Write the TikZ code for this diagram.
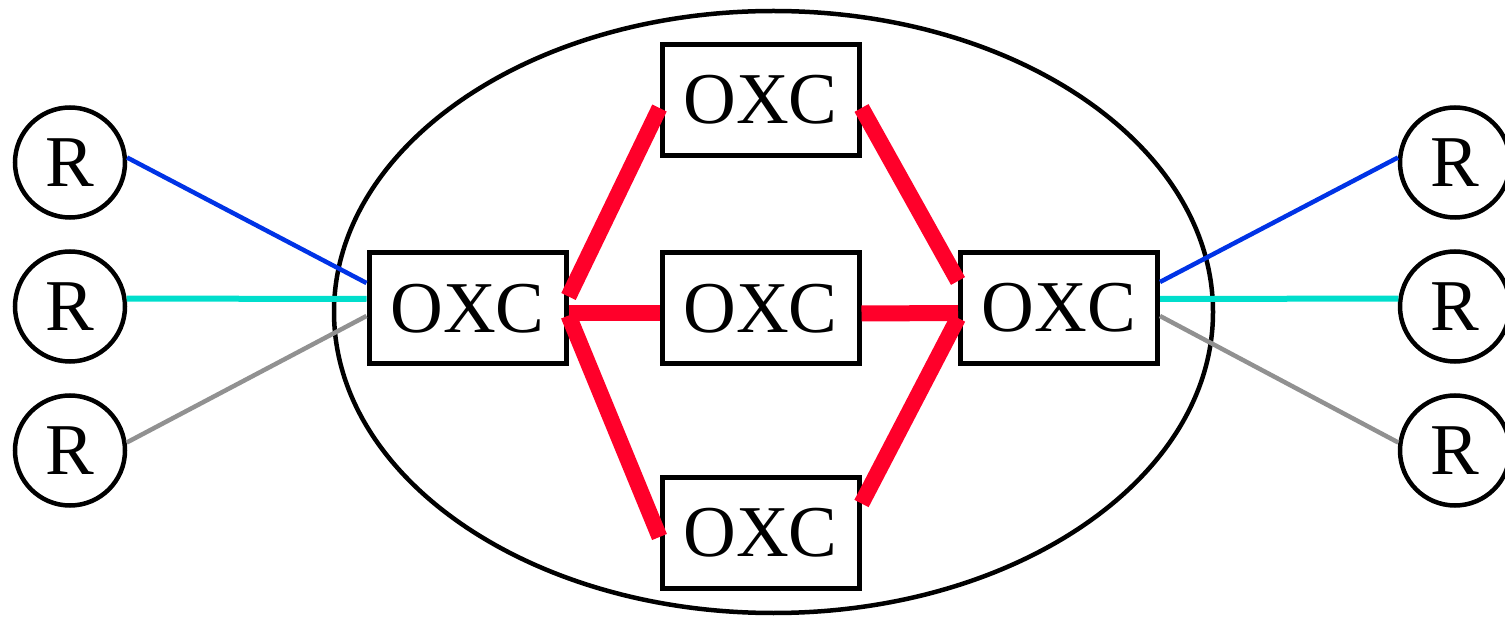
\documentclass[tikz,border=0pt]{standalone}
\usepackage{fontspec}
\setmainfont{Liberation Serif}
\definecolor{linkred}{RGB}{255,0,42}
\definecolor{linkblue}{RGB}{0,51,230}
\definecolor{linkcyan}{RGB}{0,222,204}
\definecolor{linkgray}{RGB}{145,145,145}
\begin{document}
\begin{tikzpicture}[x=1pt,y=-1pt,
  oxc/.style={draw=black,line width=5pt,fill=white,rectangle,inner sep=0pt,
    minimum width=197pt,minimum height=111pt,font=\fontsize{73}{80}\selectfont},
  router/.style={draw=black,line width=4.5pt,fill=white,circle,inner sep=0pt,
    minimum size=110pt,font=\fontsize{73}{80}\selectfont},
  fiber/.style={linkred,line width=16pt},
  bluelink/.style={linkblue,line width=4.5pt},
  cyanlink/.style={linkcyan,line width=6pt},
  graylink/.style={linkgray,line width=4.5pt}]
\useasboundingbox (0,0) rectangle (1505,617);
\draw[line width=4.5pt] (773.5,312) ellipse [x radius=439.5pt, y radius=301pt];
% OXC nodes
\node[oxc] (L) at (467.5,308.5) {OXC};
\node[oxc] (T) at (760.5,100) {OXC};
\node[oxc] (M) at (760.5,308.5) {OXC};
\node[oxc] (B) at (760.5,532.5) {OXC};
\node[oxc] (R) at (1059,308) {OXC};
% routers
\node[router] (RL1) at (70,162.5) {R};
\node[router] (RL2) at (70,306.5) {R};
\node[router] (RL3) at (70,450.5) {R};
\node[router] (RR1) at (1455,162.5) {R};
\node[router] (RR2) at (1455,306.5) {R};
\node[router] (RR3) at (1455,450.5) {R};
% red lightpaths
\draw[fiber] ([yshift=12pt]L.east) -- ([yshift=-8pt]T.west);
\draw[fiber] ([yshift=-5pt]L.east) -- ([yshift=-5pt]M.west);
\draw[fiber] ([yshift=-7pt]L.east) -- ([yshift=-4.5pt]B.west);
\draw[fiber] ([yshift=-8pt]T.east) -- ([yshift=27pt]R.west);
\draw[fiber] ([yshift=-5pt]M.east) -- ([yshift=-5pt]R.west);
\draw[fiber] ([yshift=29pt]B.east) -- ([yshift=-10pt]R.west);
% access links
\draw[bluelink] (RL1.5) -- ([yshift=25.5pt]L.west);
\draw[cyanlink] (RL2.8) -- ([yshift=9.5pt]L.west);
\draw[graylink] (RL3.8) -- ([yshift=-7.5pt]L.west);
\draw[bluelink] (RR1.175) -- ([yshift=26pt]R.east);
\draw[cyanlink] (RR2.172) -- ([yshift=9pt]R.east);
\draw[graylink] (RR3.172) -- ([yshift=-8pt]R.east);
\end{tikzpicture}
\end{document}
